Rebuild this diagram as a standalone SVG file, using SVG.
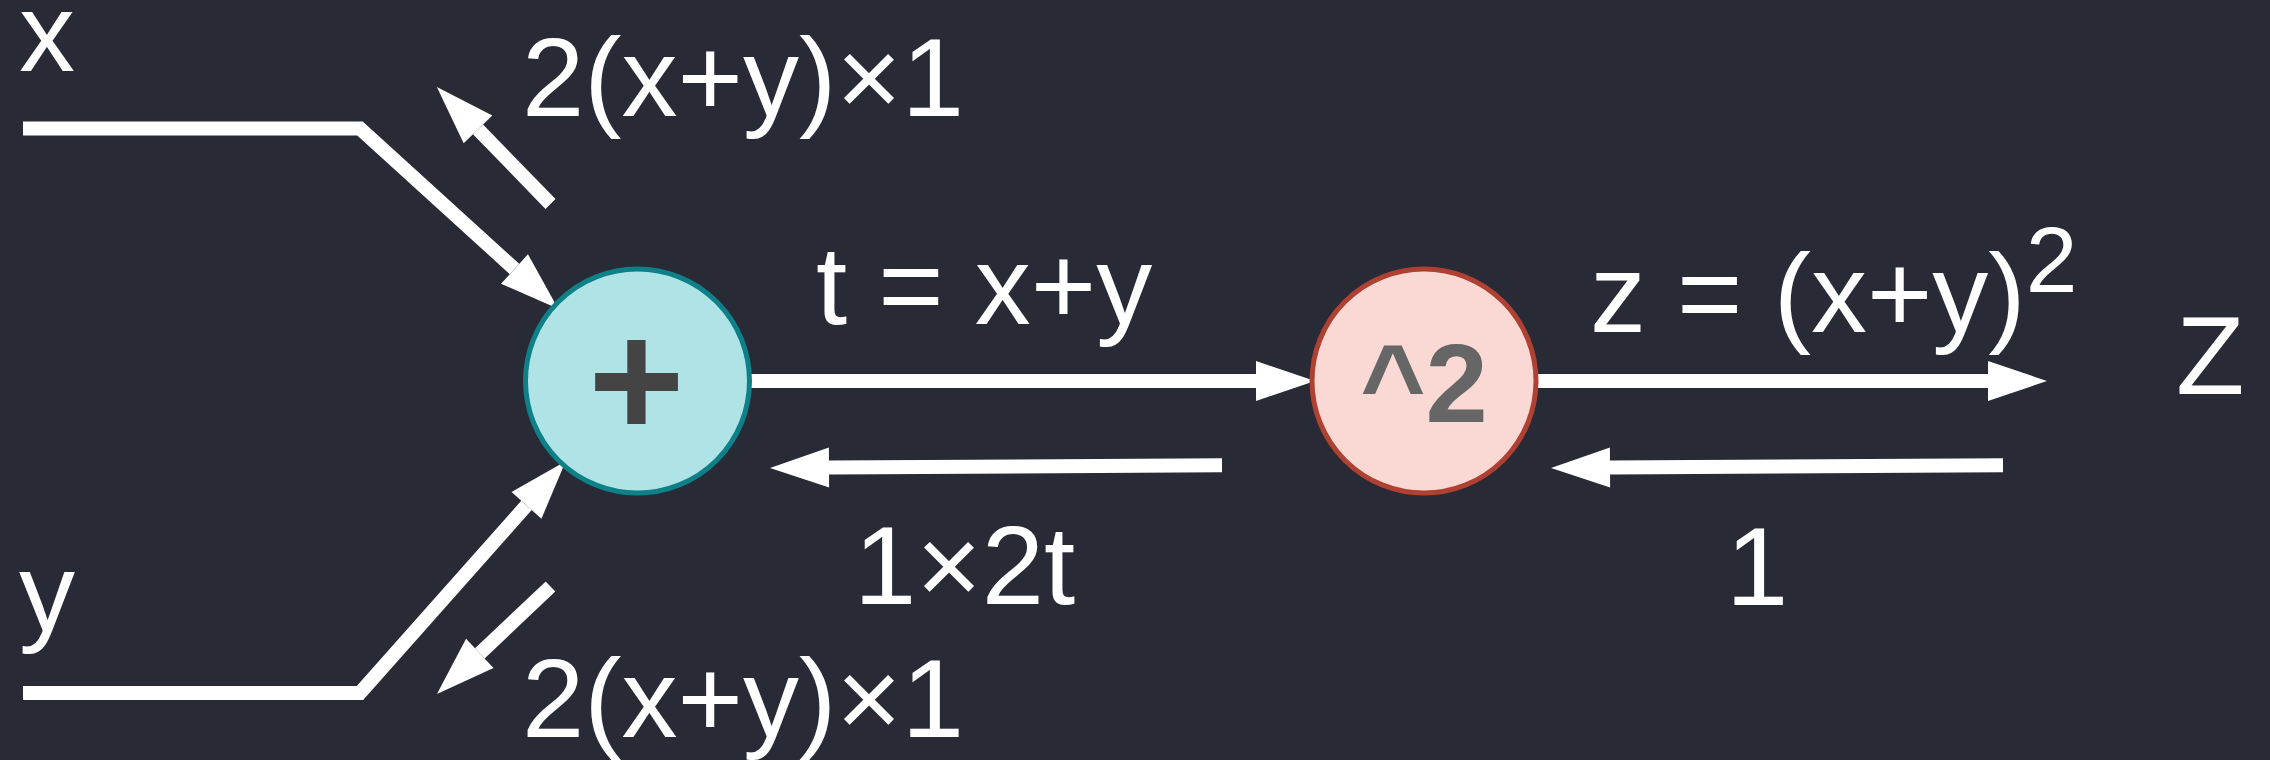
<svg xmlns="http://www.w3.org/2000/svg" width="2270" height="760" viewBox="0 0 2270 760">
  <defs>
    <style>
      .lbl { font-family: "Liberation Sans", Arial, Helvetica, sans-serif; font-size: 112px; fill: #ffffff; }
      .op { font-family: "Liberation Sans", Arial, Helvetica, sans-serif; font-weight: bold; text-anchor: middle; }
      .edge { fill: none; stroke: #ffffff; stroke-width: 14; stroke-linejoin: miter; marker-end: url(#head); }
    </style>
    <marker id="head" markerUnits="userSpaceOnUse" markerWidth="59" markerHeight="40" viewBox="0 0 59 40" refX="0" refY="20" orient="auto" overflow="visible">
      <path d="M0,0 L59,20 L0,40 Z" fill="#ffffff"/>
    </marker>
  </defs>
  <rect x="0" y="0" width="2270" height="760" fill="#282a36"/>

  <g id="connectors">
    <polyline class="edge" points="23,128.5 360,128.5 514.5,269"/>
    <polyline class="edge" points="23,693 360,693 526.5,505.4"/>
    <polyline class="edge" points="550.5,204 478,129.4"/>
    <polyline class="edge" points="550.5,586.5 479.8,653.4"/>
    <polyline class="edge" points="750,381 1256,381"/>
    <polyline class="edge" points="1222,465.3 829,467.6"/>
    <polyline class="edge" points="1537,381 1988,381"/>
    <polyline class="edge" points="2003,465.3 1610,467.6"/>
  </g>

  <g id="node-plus">
    <circle cx="637.5" cy="381" r="112" fill="#b0e3e6" stroke="#0e8088" stroke-width="5"/>
    <text class="op" x="636.5" y="437" font-size="165" fill="#444444">+</text>
  </g>

  <g id="node-square">
    <circle cx="1424" cy="381" r="112" fill="#fad9d5" stroke="#ae4132" stroke-width="5"/>
    <text class="op" x="1424" y="422" font-size="112" fill="#666666">^2</text>
  </g>

  <g id="labels">
    <text class="lbl" x="19" y="71">x</text>
    <text class="lbl" x="19" y="631">y</text>
    <text class="lbl" x="522" y="116">2(x+y)×1</text>
    <text class="lbl" x="522" y="737">2(x+y)×1</text>
    <text class="lbl" x="816" y="324">t = x+y</text>
    <text class="lbl" x="854" y="604">1×2t</text>
    <text class="lbl" x="1590" y="332">z = (x+y)<tspan font-size="93" dy="-40">2</tspan></text>
    <text class="lbl" x="1726" y="605">1</text>
    <text class="lbl" x="2176" y="394">Z</text>
  </g>
</svg>
